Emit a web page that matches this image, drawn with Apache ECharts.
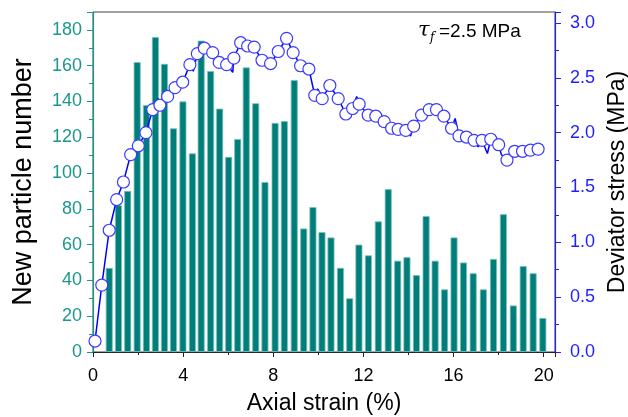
<!DOCTYPE html>
<html>
<head>
<meta charset="utf-8">
<script src="https://cdn.jsdelivr.net/npm/echarts@6/dist/echarts.min.js"></script>
<style>
html,body{margin:0;padding:0;background:#fff;}
#chart{width:628px;height:417px;}
</style>
</head>
<body>
<div id="chart"></div>
<script>
// Bars: new particle number vs axial strain (%)
var barStrain = [0.72,1.13,1.54,1.96,2.37,2.77,3.17,3.57,3.99,4.41,4.80,5.22,5.62,6.02,6.42,6.80,7.22,7.63,8.08,8.49,8.93,9.35,9.76,10.16,10.56,10.98,11.39,11.80,12.22,12.66,13.10,13.52,13.93,14.35,14.78,15.18,15.60,16.02,16.44,16.87,17.32,17.77,18.21,18.65,19.09,19.53,19.96];
var particles = [47,82,90,162,138,176,161,125,140,111,174,157,136,109,119,159,139,95,128,129,152,69,81,67,64,47,30,60,54,73,91,51,53,43,76,51,35,64,50,44,35,52,77,26,48,44,19];

// Deviator stress (MPa): points shown with open circle markers
var markerStrain = [0.09,0.39,0.72,1.05,1.35,1.67,2.01,2.35,2.65,2.97,3.31,3.64,3.98,4.30,4.63,4.94,5.31,5.60,5.93,6.25,6.55,6.86,7.15,7.50,7.88,8.22,8.59,8.88,9.21,9.58,9.84,10.17,10.51,10.88,11.22,11.52,11.81,12.21,12.55,12.92,13.25,13.54,13.88,14.23,14.58,14.92,15.24,15.57,15.91,16.24,16.57,16.91,17.26,17.65,18.00,18.37,18.71,19.06,19.41,19.75];
var markerStress = [0.10,0.61,1.11,1.39,1.55,1.80,1.88,2.00,2.21,2.25,2.33,2.41,2.46,2.62,2.72,2.77,2.73,2.64,2.62,2.68,2.82,2.79,2.78,2.66,2.63,2.74,2.86,2.73,2.61,2.58,2.34,2.31,2.43,2.31,2.17,2.22,2.26,2.16,2.15,2.10,2.04,2.03,2.02,2.06,2.16,2.21,2.21,2.15,2.04,1.97,1.96,1.93,1.93,1.94,1.89,1.75,1.83,1.83,1.84,1.85];
// Extra points of the continuous stress curve (between markers)
var curveStrain = [2.90,4.45,6.20,9.97,11.70,12.75,14.09,16.07,17.09,17.50,18.12,19.96];
var curveStress = [2.31,2.56,2.55,2.40,2.33,2.06,1.97,2.13,1.87,1.81,1.80,1.89];

// Axis ticks
var xTicks = {min:0, max:20.5, interval:4};
var yLeftTicks = {min:0, max:190, interval:20};
var yRightTicks = {min:0, max:3.1, interval:0.5};

var teal = '#1c978b';
var blue = '#1f1fff';
var FONT = 'Liberation Sans';

var barData = barStrain.map(function(x,i){return [x, particles[i]];});
var markerData = markerStrain.map(function(x,i){return [x, markerStress[i]];});
var curveData = markerData.concat(curveStrain.map(function(x,i){return [x, curveStress[i]];}))
  .sort(function(a,b){return a[0]-b[0];});

var chart = echarts.init(document.getElementById('chart'), null, {renderer:'canvas'});
chart.setOption({
  animation:false,
  backgroundColor:'#fff',
  textStyle:{fontFamily:FONT},
  grid:{left:93, right:73, top:12, bottom:65, containLabel:false, outerBoundsMode:'none',
    show:true, borderColor:'#444', borderWidth:1, backgroundColor:'transparent'},
  xAxis:{
    type:'value', min:xTicks.min, max:xTicks.max, interval:xTicks.interval,
    name:'Axial strain (%)', nameLocation:'middle', nameGap:40,
    nameTextStyle:{fontSize:23, color:'#000', fontFamily:FONT},
    axisLine:{show:true, onZero:false, lineStyle:{color:'#222', width:1.2}},
    axisTick:{show:true, inside:false, length:5, lineStyle:{color:'#222'}},
    minorTick:{show:true, splitNumber:2, length:3, lineStyle:{color:'#222'}},
    axisLabel:{fontSize:18, color:'#000', margin:15, showMaxLabel:false, fontFamily:FONT},
    splitLine:{show:false}
  },
  yAxis:[{
    type:'value', min:yLeftTicks.min, max:yLeftTicks.max, interval:yLeftTicks.interval,
    name:'New particle number', nameLocation:'middle', nameRotate:90, nameGap:56,
    nameTextStyle:{fontSize:27, color:'#000', fontFamily:FONT},
    axisLine:{show:true, lineStyle:{color:teal, width:1.2}},
    axisTick:{show:true, inside:false, length:6, lineStyle:{color:teal}},
    minorTick:{show:true, splitNumber:2, length:4, lineStyle:{color:teal}},
    axisLabel:{fontSize:18, color:teal, margin:11, showMaxLabel:false, fontFamily:FONT},
    splitLine:{show:false}
  },{
    type:'value', position:'right', min:yRightTicks.min, max:yRightTicks.max, interval:yRightTicks.interval,
    name:'Deviator stress (MPa)', nameLocation:'middle', nameRotate:90, nameGap:48,
    nameTextStyle:{fontSize:23, color:'#000', fontFamily:FONT},
    axisLine:{show:true, lineStyle:{color:blue, width:1.2}},
    axisTick:{show:true, inside:false, length:6, lineStyle:{color:blue}},
    minorTick:{show:true, splitNumber:2, length:4, lineStyle:{color:blue}},
    axisLabel:{fontSize:18, color:blue, margin:15, showMaxLabel:false, fontFamily:FONT,
      formatter:function(v){return v.toFixed(1);}},
    splitLine:{show:false}
  }],
  series:[{
    type:'bar', xAxisIndex:0, yAxisIndex:0, data:barData, barWidth:7,
    itemStyle:{color:'#007f7a', borderColor:'#7cc0bb', borderWidth:0.8},
    z:2
  },{
    type:'line', xAxisIndex:0, yAxisIndex:1, data:curveData, showSymbol:false, symbol:'none',
    lineStyle:{color:'#0000ff', width:1.5}, z:3
  },{
    type:'scatter', xAxisIndex:0, yAxisIndex:1, data:markerData, symbol:'circle', symbolSize:12,
    itemStyle:{color:'#fff', borderColor:'#3b3bff', borderWidth:1.2, opacity:1}, z:4
  }],
  graphic:[
    {type:'text', left:418, top:20, style:{text:'\u03C4', font:'italic 21px "DejaVu Serif"', fill:'#000'}},
    {type:'text', left:430, top:32, style:{text:'f', font:'italic 12px "DejaVu Serif"', fill:'#000'}},
    {type:'text', left:439, top:22, style:{text:'=2.5 MPa', font:'19px "Liberation Sans"', fill:'#000'}}
  ]
});
</script>
</body>
</html>
